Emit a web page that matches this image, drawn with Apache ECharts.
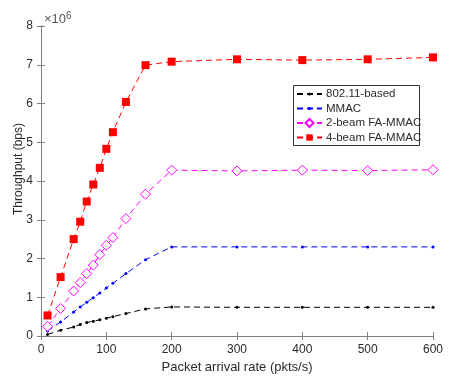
<!DOCTYPE html>
<html><head><meta charset="utf-8">
<script src="https://cdn.jsdelivr.net/npm/echarts@6/dist/echarts.min.js"></script>
<style>html,body{margin:0;padding:0;background:#fff}#c{width:458px;height:382px}</style>
</head><body><div id="c"></div>
<script>
const rates = [10,30,50,60,70,80,90,100,110,130,160,200,300,400,500,600];
const s80211 = [0.04,0.15,0.23,0.30,0.35,0.38,0.42,0.46,0.50,0.58,0.70,0.75,0.74,0.74,0.74,0.74];
const sMMAC = [0.13,0.36,0.62,0.75,0.87,0.99,1.11,1.24,1.36,1.61,1.97,2.30,2.30,2.30,2.30,2.30];
const s2beam = [0.25,0.71,1.16,1.38,1.61,1.83,2.10,2.34,2.54,3.03,3.66,4.28,4.26,4.28,4.27,4.29];
const s4beam = [0.53,1.52,2.50,2.95,3.47,3.91,4.34,4.83,5.26,6.04,6.99,7.08,7.14,7.12,7.14,7.19];
const names = ['802.11-based','MMAC','2-beam FA-MMAC','4-beam FA-MMAC'];
const xTicks = [0,100,200,300,400,500,600];
const yTicks = [0,1,2,3,4,5,6,7,8];

const font = 'Liberation Sans, Arial, sans-serif';
const axisCol = '#808080';
const txtCol = '#2b2b2b';
function pairs(arr){ return rates.map((x,i)=>[x,arr[i]]); }
function ser(name, data, color, symbol, size, fill){
  return {name, type:'line', data:pairs(data), symbol, symbolSize:size,
    lineStyle:{color, width:1, type:[6,4]},
    itemStyle:{color: fill ? color : '#fff', borderColor:color, borderWidth: fill?0:1},
    emphasis:{disabled:true}, animation:false, z:3};
}
const legendRows = [94,108.5,123,137.5];
const legendSizes = [4,4,10,8];
const legends = names.map((n,i)=>({orient:'vertical', left:296, top:legendRows[i]-7,
  itemWidth:25, itemHeight:legendSizes[i], itemGap:0, padding:0,
  textStyle:{fontFamily:font, fontSize:11.5, color:txtCol, lineHeight:14, padding:[0,0,0,-1]}, data:[n], z:10}));
const chart = echarts.init(document.getElementById('c'));
chart.setOption({
  animation:false,
  grid:{left:41, right:25, top:26, bottom:46, outerBoundsMode:'none', containLabel:false},
  legend:legends,
  xAxis:[{type:'value', min:0, max:600, interval:100,
    name:'Packet arrival rate (pkts/s)', nameLocation:'middle', nameGap:25, nameMoveOverlap:false,
    nameTextStyle:{fontFamily:font, fontSize:13, color:txtCol},
    axisLine:{lineStyle:{color:axisCol}}, axisTick:{inside:true, length:4, lineStyle:{color:axisCol}},
    axisLabel:{fontFamily:font, fontSize:12, color:txtCol, margin:8}, splitLine:{show:false}},
    {type:'value', position:'top', min:0, max:600, interval:100,
    axisLine:{show:true, lineStyle:{color:axisCol}}, axisTick:{inside:true, length:4, lineStyle:{color:axisCol}},
    axisLabel:{show:false}, splitLine:{show:false}}],
  yAxis:[{type:'value', min:0, max:8, interval:1,
    name:'Throughput (bps)', nameLocation:'middle', nameGap:16, nameRotate:90, nameMoveOverlap:false,
    nameTextStyle:{fontFamily:font, fontSize:12, color:txtCol, padding:[0,0,0,24]},
    axisLine:{show:true, lineStyle:{color:axisCol}}, axisTick:{show:true, inside:true, length:4, lineStyle:{color:axisCol}},
    axisLabel:{fontFamily:font, fontSize:12, color:txtCol, margin:8}, splitLine:{show:false}},
    {type:'value', position:'right', min:0, max:8, interval:1,
    axisLine:{show:true, lineStyle:{color:axisCol}}, axisTick:{show:true, inside:true, length:4, lineStyle:{color:axisCol}},
    axisLabel:{show:false}, splitLine:{show:false}}],
  graphic:[
    {type:'rect', left:293, top:85, shape:{width:126, height:60}, style:{fill:'#fff', stroke:'#333', lineWidth:1}, z:5},
    {type:'text', left:44, top:11, style:{text:'×10{s|6}', rich:{s:{fontSize:10, verticalAlign:'top', fontFamily:font, fill:'#555', padding:[0,0,7,0]}},
    fontFamily:font, fontSize:13, fill:'#555'}}],
  series:[
    ser(names[0], s80211, '#000000', 'circle', 3, true),
    ser(names[1], sMMAC, '#0000ff', 'circle', 3, true),
    ser(names[2], s2beam, '#ff00ff', 'diamond', 10, false),
    ser(names[3], s4beam, '#ff0000', 'rect', 8, true)
  ]
});
</script></body></html>
